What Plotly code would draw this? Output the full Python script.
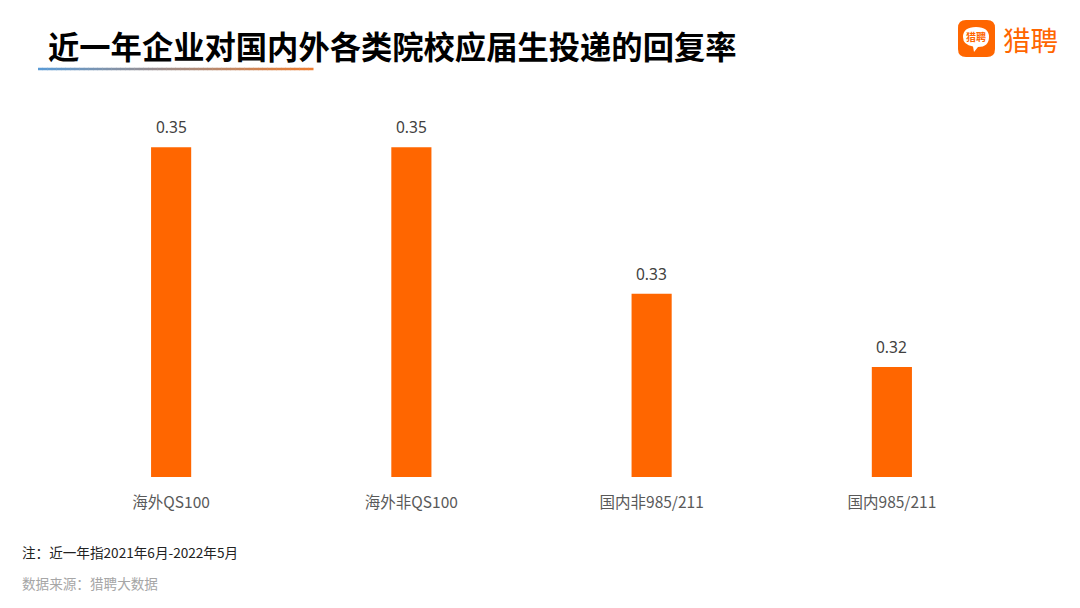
import plotly.graph_objects as go

categories = ["海外QS100", "海外非QS100", "国内非985/211", "国内985/211"]
values = [0.35, 0.35, 0.33, 0.32]
value_labels = ["0.35", "0.35", "0.33", "0.32"]

title_text = "近一年企业对国内外各类院校应届生投递的回复率"
note_text = "注：近一年指2021年6月-2022年5月"
source_text = "数据来源：猎聘大数据"
brand_text = "猎聘"

OFF = 8  # browser body margin
W, H = 1080 - OFF, 608 - OFF
# page-pixel plot box
PL, PR, PT, PB = 51, 1012, 74, 477
ML, MR, MT, MB = PL - OFF, W - (PR - OFF), PT - OFF, H - (PB - OFF)

fig = go.Figure()
fig.add_trace(go.Bar(
    x=categories, y=values,
    marker=dict(color="#ff6600", line=dict(width=0)),
    hoverinfo="skip",
))

pw, ph = PR - PL, PB - PT


def px(xp):
    return (xp - PL) / pw


def py(yp):
    return (PB - yp) / ph


fig.update_layout(
    width=W, height=H,
    margin=dict(l=ML, r=MR, t=MT, b=MB, autoexpand=False),
    paper_bgcolor="white", plot_bgcolor="white",
    bargap=0.833,
    showlegend=False,
    xaxis=dict(showgrid=False, showline=False, zeroline=False, ticks="",
               ticklabelstandoff=14,
               tickfont=dict(family="Noto Sans CJK SC, sans-serif", size=15.5, color="#595959")),
    yaxis=dict(range=[0.305, 0.36], visible=False, showgrid=False),
    font=dict(family="Noto Sans CJK SC, sans-serif"),
)

annotations = []
for c, v, lab in zip(categories, values, value_labels):
    annotations.append(dict(
        x=c, y=v, xref="x", yref="y", yanchor="middle", xanchor="center",
        yshift=20, showarrow=False, text=lab,
        font=dict(family="Noto Sans, Open Sans, sans-serif", size=15.5, color="#404040"),
    ))
# Title
annotations.append(dict(
    xref="paper", yref="paper", x=px(46), y=py(45),
    xanchor="left", yanchor="middle", showarrow=False,
    text="<b>" + title_text + "</b>",
    font=dict(family="Noto Sans CJK SC, sans-serif", size=31.3, color="#000000"),
))
# Note and source
annotations.append(dict(
    xref="paper", yref="paper", x=px(20), y=py(552),
    xanchor="left", yanchor="middle", showarrow=False,
    text=note_text,
    font=dict(family="Noto Sans CJK SC, sans-serif", size=13.6, color="#222222"),
))
annotations.append(dict(
    xref="paper", yref="paper", x=px(20), y=py(583),
    xanchor="left", yanchor="middle", showarrow=False,
    text=source_text,
    font=dict(family="Noto Sans CJK SC, sans-serif", size=13.6, color="#a6a6a6"),
))
# Brand text
annotations.append(dict(
    xref="paper", yref="paper", x=px(1001), y=py(39),
    xanchor="left", yanchor="middle", showarrow=False,
    text=brand_text,
    font=dict(family="Noto Sans CJK SC, sans-serif", size=27.5, color="#ff6600"),
))
# Text inside logo bubble
annotations.append(dict(
    xref="paper", yref="paper", x=px(976), y=py(37),
    xanchor="center", yanchor="middle", showarrow=False,
    text="<b>猎聘</b>",
    font=dict(family="Noto Sans CJK SC, sans-serif", size=10, color="#ff6600"),
))
fig.update_layout(annotations=annotations)

shapes = []
# gradient underline
x0, x1, yl = 38, 313, 69
n = 60
c0 = (91, 155, 213)
c1 = (237, 125, 49)
for i in range(n):
    t = i / (n - 1)
    c = tuple(int(round(c0[k] + (c1[k] - c0[k]) * t)) for k in range(3))
    xa = x0 + (x1 - x0) * i / n
    xb = x0 + (x1 - x0) * (i + 1) / n + 0.5
    shapes.append(dict(type="line", xref="paper", yref="paper",
                       x0=px(xa), x1=px(xb), y0=py(yl), y1=py(yl),
                       line=dict(color="rgb(%d,%d,%d)" % c, width=2.5)))


def rr_path(xa, ya, xb, yb, r):
    return (f"M {px(xa + r)},{py(ya)} L {px(xb - r)},{py(ya)} "
            f"Q {px(xb)},{py(ya)} {px(xb)},{py(ya + r)} L {px(xb)},{py(yb - r)} "
            f"Q {px(xb)},{py(yb)} {px(xb - r)},{py(yb)} L {px(xa + r)},{py(yb)} "
            f"Q {px(xa)},{py(yb)} {px(xa)},{py(yb - r)} L {px(xa)},{py(ya + r)} "
            f"Q {px(xa)},{py(ya)} {px(xa + r)},{py(ya)} Z")


shapes.append(dict(type="path", xref="paper", yref="paper", path=rr_path(958, 20, 995, 57, 8),
                   fillcolor="#ff6600", line=dict(width=0)))
bub = (f"M {px(963)},{py(37)} Q {px(963)},{py(27)} {px(976)},{py(27)} "
       f"Q {px(989)},{py(27)} {px(989)},{py(37)} Q {px(989)},{py(47)} {px(978)},{py(47)} "
       f"L {px(974)},{py(52)} L {px(973)},{py(46.5)} Q {px(963)},{py(45)} {px(963)},{py(37)} Z")
shapes.append(dict(type="path", xref="paper", yref="paper", path=bub,
                   fillcolor="white", line=dict(width=0)))
fig.update_layout(shapes=shapes)

fig.write_html("out.html")
